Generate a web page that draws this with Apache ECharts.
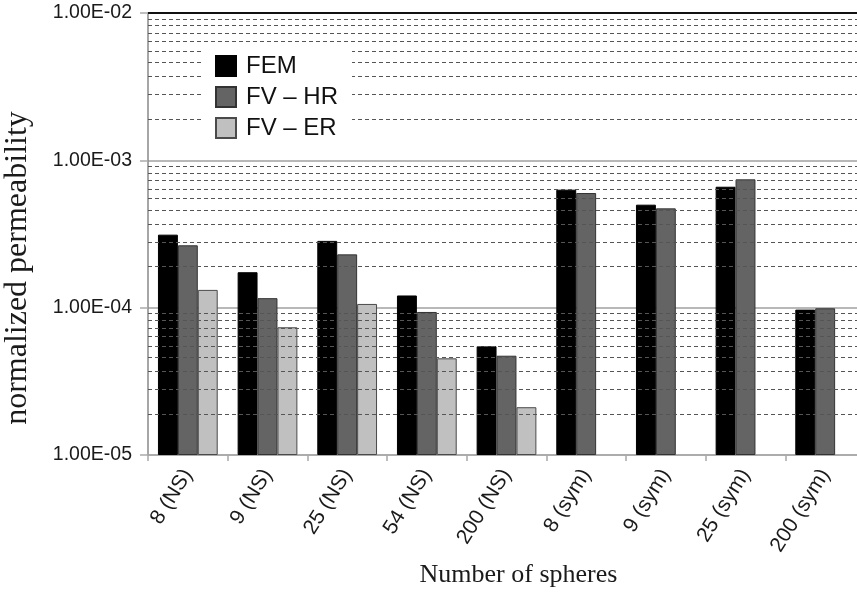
<!DOCTYPE html>
<html>
<head>
<meta charset="utf-8">
<script src="https://cdn.jsdelivr.net/npm/echarts@6/dist/echarts.min.js"></script>
<style>
html,body{margin:0;padding:0;background:#fff;}
#chart{width:857px;height:593px;}
</style>
</head>
<body>
<div id="chart"></div>
<script>
var categories = ['8 (NS)', '9 (NS)', '25 (NS)', '54 (NS)', '200 (NS)', '8 (sym)', '9 (sym)', '25 (sym)', '200 (sym)'];
var femValues = [3.13e-4, 1.74e-4, 2.84e-4, 1.21e-4, 5.47e-5, 6.32e-4, 5.00e-4, 6.62e-4, 9.7e-5];
var fvHrValues = [2.65e-4, 1.16e-4, 2.30e-4, 9.35e-5, 4.72e-5, 6.00e-4, 4.72e-4, 7.43e-4, 9.9e-5];
var fvErValues = [1.32e-4, 7.36e-5, 1.06e-4, 4.53e-5, 2.11e-5, null, null, null, null];
var seriesNames = ['FEM', 'FV \u2013 HR', 'FV \u2013 ER'];
var yTickLabels = ['1.00E-05', '1.00E-04', '1.00E-03', '1.00E-02'];
var minorMantissas = [1.9, 2.8, 3.7, 4.6, 5.5, 6.4, 7.3, 8.2, 9.1];
var minorDecades = [-5, -4, -3];

// ECharts log-axis bars grow from value 1, so the axis is expressed in units of its minimum (1e-5).
var AXIS_UNIT = 1e-5;
function toAxis(v) { return v == null ? null : v / AXIS_UNIT; }

var SANS = "'Liberation Sans', Arial, sans-serif";
var SERIF = "'Liberation Serif', 'Times New Roman', serif";

var minorLines = [];
minorDecades.forEach(function (d) {
  minorMantissas.forEach(function (m) {
    minorLines.push({ yAxis: toAxis(m * Math.pow(10, d)) });
  });
});

function barSeries(name, data, color, border) {
  return {
    name: name,
    type: 'bar',
    data: data.map(toAxis),
    barGap: '0%',
    barCategoryGap: '25%',
    z: 3,
    itemStyle: { color: color, borderColor: border, borderWidth: 1 }
  };
}

var chart = echarts.init(document.getElementById('chart'), null, { renderer: 'canvas' });
chart.setOption({
  animation: false,
  backgroundColor: '#fff',
  grid: { left: 148, top: 13, width: 717, height: 442, containLabel: false, outerBoundsMode: 'none' },
  legend: {
    data: seriesNames,
    orient: 'vertical',
    left: 201,
    top: 46,
    backgroundColor: '#fff',
    padding: [8, 14, 16, 14],
    itemWidth: 20,
    itemHeight: 20,
    itemGap: 7,
    icon: 'rect',
    textStyle: { fontFamily: SANS, fontSize: 24, color: '#111', padding: [0, 0, 0, 5], lineHeight: 24 },
    z: 10
  },
  xAxis: {
    type: 'category',
    data: categories,
    boundaryGap: true,
    axisLine: { show: true, lineStyle: { color: '#a8a8a8', width: 1.5 } },
    axisTick: { show: true, interval: 0, length: 6, lineStyle: { color: '#a8a8a8', width: 1.5 } },
    axisLabel: { interval: 0, rotate: 58, margin: 16, fontFamily: SANS, fontSize: 21, color: '#1a1a1a' },
    splitLine: { show: false },
    name: 'Number of spheres',
    nameLocation: 'middle',
    nameGap: 107,
    nameMoveOverlap: false,
    nameTextStyle: { fontFamily: SERIF, fontSize: 26, color: '#1a1a1a', padding: [0, 0, 0, 24] }
  },
  yAxis: {
    type: 'log',
    logBase: 10,
    min: toAxis(1e-5),
    max: toAxis(1e-2),
    axisLine: { show: true, lineStyle: { color: '#888', width: 1.5 } },
    axisTick: { show: true, length: 8, lineStyle: { color: '#aaa', width: 1.5 } },
    axisLabel: {
      margin: 16,
      fontFamily: SANS,
      fontSize: 19.5,
      color: '#1a1a1a',
      formatter: function (v) {
        var i = Math.round(Math.log10(v * AXIS_UNIT)) + 5;
        return yTickLabels[i] || '';
      }
    },
    splitLine: { show: true, lineStyle: { color: '#b8b8b8', width: 2 } },
    minorTick: { show: false },
    minorSplitLine: { show: false },
    name: 'normalized permeability',
    nameLocation: 'middle',
    nameGap: 114,
    nameMoveOverlap: false,
    nameTextStyle: { fontFamily: SERIF, fontSize: 32, color: '#1a1a1a', padding: [0, 68, 0, 0] }
  },
  series: [
    {
      name: 'gridlines',
      type: 'line',
      data: categories.map(function () { return null; }),
      z: 1,
      silent: true,
      showSymbol: false,
      markLine: {
        silent: true,
        symbol: 'none',
        label: { show: false },
        animation: false,
        lineStyle: { color: '#555', width: 1, type: [4, 3] },
        data: minorLines.concat([{ yAxis: toAxis(1e-2), lineStyle: { color: '#111', width: 2, type: 'solid' } }])
      }
    },
    barSeries(seriesNames[0], femValues, '#000000', '#000000'),
    barSeries(seriesNames[1], fvHrValues, '#646464', '#333333'),
    barSeries(seriesNames[2], fvErValues, '#c0c0c0', '#4a4a4a')
  ]
});
</script>
</body>
</html>
